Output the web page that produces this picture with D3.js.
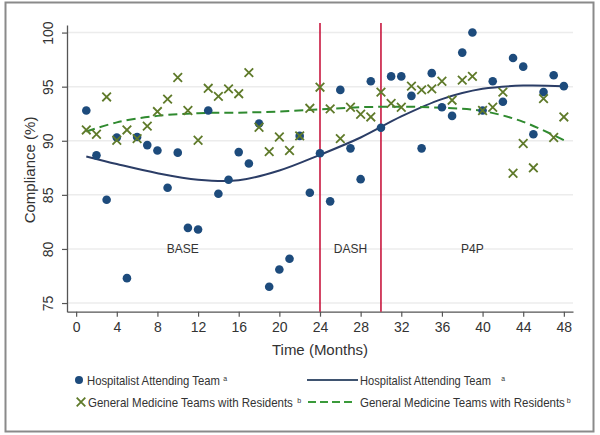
<!DOCTYPE html>
<html>
<head>
<meta charset="utf-8">
<script src="https://cdn.jsdelivr.net/npm/d3@7"></script>
<style>
  body { margin: 0; background: #fff; }
  text { font-family: "Liberation Sans", Arial, sans-serif; }
</style>
</head>
<body>
<div id="chart"></div>
<script>
var svgWidth = 600;
var svgHeight = 435;

// months 1..48
var months = d3.range(1, 49);

var hospitalist = [92.8, 88.65, 84.55, 90.3, 77.3, 90.35, 89.6, 89.1, 85.65, 88.9,
  81.95, 81.8, 92.8, 85.1, 86.4, 88.95, 87.9, 91.6, 76.5, 78.1,
  79.1, 90.45, 85.2, 88.85, 84.4, 94.7, 89.3, 86.45, 95.5, 91.2,
  95.95, 95.95, 94.15, 89.3, 96.25, 93.1, 92.3, 98.15, 100, 92.8,
  95.5, 93.6, 97.65, 96.85, 90.6, 94.5, 96.05, 95.05];

var residents = [91.0, 90.6, 94.05, 90.05, 91.0, 90.2, 91.35, 92.7, 93.85, 95.85,
  92.8, 90.05, 94.85, 94.1, 94.8, 94.35, 96.3, 91.25, 89.0, 90.35,
  89.1, 90.45, 93.0, 94.95, 92.95, 90.2, 93.1, 92.45, 92.2, 94.5,
  93.45, 93.1, 95.05, 94.7, 94.8, 95.5, 93.75, 95.6, 95.95, 92.8,
  93.1, 94.5, 87.0, 89.75, 87.5, 93.9, 90.3, 92.2];

// fitted trend lines
var fitMonths = [1, 4, 8, 12, 16, 20, 24, 28, 32, 36, 40, 44, 48];
var hospitalistFit = [88.55, 87.85, 87.0, 86.4, 86.35, 87.25, 88.7, 90.3, 92.25, 93.85, 94.8, 95.1, 95.05];
var residentsFit = [90.85, 91.7, 92.3, 92.55, 92.6, 92.7, 92.9, 93.1, 93.15, 93.05, 92.75, 91.75, 90.05];

var phaseBreaks = [24, 30];
var phaseLabels = ["BASE", "DASH", "P4P"];
var phaseLabelMonths = [10.5, 27, 39];

var xTicks = d3.range(0, 49, 4);
var yTicks = [75, 80, 85, 90, 95, 100];

var legendLabels = ["Hospitalist Attending Team", "General Medicine Teams with Residents"];
var legendSups = ["a", "b"];

var blue = "#1d4b7c";
var blueLine = "#2b3d66";
var green = "#5f7a2a";
var greenLine = "#3a9a3a";
var red = "#c8173f";

var svg = d3.select("#chart")
  .append("svg")
  .attr("width", svgWidth)
  .attr("height", svgHeight);

// outer frame
svg.append("rect")
  .attr("x", 5.5)
  .attr("y", 2.5)
  .attr("width", 588)
  .attr("height", 429)
  .attr("fill", "#fff")
  .attr("stroke", "#8a8a8a")
  .attr("stroke-width", 2);

var x = d3.scaleLinear().domain([-0.9, 48.9]).range([67, 573]);
var y = d3.scaleLinear().domain([74.2, 100.7]).range([311.7, 25]);

// gridlines
svg.append("g")
  .selectAll("line")
  .data(yTicks)
  .enter()
  .append("line")
  .attr("x1", x(-0.9))
  .attr("x2", x(48.9))
  .attr("y1", d => y(d))
  .attr("y2", d => y(d))
  .attr("stroke", "#ececec")
  .attr("stroke-width", 1.5);

// axes
var xAxis = svg.append("g")
  .attr("transform", `translate(0, ${y(74.2)})`)
  .call(d3.axisBottom(x).tickValues(xTicks).tickSize(5).tickPadding(5).tickSizeOuter(0));

var yAxis = svg.append("g")
  .attr("transform", `translate(${x(-0.9)}, 0)`)
  .call(d3.axisLeft(y).tickValues(yTicks).tickSize(5).tickSizeOuter(0));

[xAxis, yAxis].forEach(function(a) {
  a.select(".domain").attr("stroke", "#555").attr("stroke-width", 1.3);
  a.selectAll(".tick line").attr("stroke", "#555").attr("stroke-width", 1.2);
  a.selectAll(".tick text")
    .attr("fill", "#333")
    .style("font-size", "14px")
    .style("font-family", "'Liberation Sans', Arial, sans-serif");
});

// rotated y tick labels
yAxis.selectAll(".tick text")
  .attr("text-anchor", "middle")
  .attr("x", 0)
  .attr("dy", 0)
  .attr("transform", "translate(-14, 0) rotate(-90)");

// axis titles
svg.append("text")
  .attr("transform", `translate(30, ${y(87.3)}) rotate(-90)`)
  .attr("text-anchor", "middle")
  .attr("dy", "0.35em")
  .attr("fill", "#333")
  .style("font-size", "15px")
  .text("Compliance (%)");

svg.append("text")
  .attr("x", x(24))
  .attr("y", 355)
  .attr("text-anchor", "middle")
  .attr("fill", "#333")
  .style("font-size", "15px")
  .text("Time (Months)");

// phase boundaries
svg.append("g")
  .selectAll("line")
  .data(phaseBreaks)
  .enter()
  .append("line")
  .attr("x1", d => x(d))
  .attr("x2", d => x(d))
  .attr("y1", 23)
  .attr("y2", y(74.2))
  .attr("stroke", red)
  .attr("stroke-width", 1.6);

svg.append("g")
  .selectAll("text")
  .data(phaseLabels)
  .enter()
  .append("text")
  .attr("x", (d, i) => x(phaseLabelMonths[i]))
  .attr("y", y(80))
  .attr("dy", "0.35em")
  .attr("text-anchor", "middle")
  .attr("fill", "#333")
  .style("font-size", "12px")
  .text(d => d);

// fitted lines
var line = d3.line()
  .x((d, i) => x(fitMonths[i]))
  .y(d => y(d))
  .curve(d3.curveCatmullRom);

svg.append("path")
  .attr("d", line(hospitalistFit))
  .attr("fill", "none")
  .attr("stroke", blueLine)
  .attr("stroke-width", 2);

svg.append("path")
  .attr("d", line(residentsFit))
  .attr("fill", "none")
  .attr("stroke", "#2f8a2f")
  .attr("stroke-width", 2)
  .attr("stroke-dasharray", "9,5");

// hospitalist dots
svg.append("g")
  .selectAll("circle")
  .data(hospitalist)
  .enter()
  .append("circle")
  .attr("cx", (d, i) => x(months[i]))
  .attr("cy", d => y(d))
  .attr("r", 4.3)
  .attr("fill", blue);

// resident crosses
var cross = d3.symbol().type(d3.symbolX).size(50);
svg.append("g")
  .selectAll("path")
  .data(residents)
  .enter()
  .append("path")
  .attr("transform", (d, i) => `translate(${x(months[i])}, ${y(d)})`)
  .attr("d", cross)
  .attr("fill", "none")
  .attr("stroke", green)
  .attr("stroke-width", 1.8);

// legend
var legend = svg.append("g").attr("class", "legend");
var rowY = [380, 402];

legend.append("circle")
  .attr("cx", 79)
  .attr("cy", rowY[0])
  .attr("r", 4)
  .attr("fill", blue);

legend.append("path")
  .attr("transform", `translate(81, ${rowY[1]})`)
  .attr("d", cross)
  .attr("fill", "none")
  .attr("stroke", green)
  .attr("stroke-width", 1.8);

legend.append("line")
  .attr("x1", 307).attr("x2", 358)
  .attr("y1", rowY[0]).attr("y2", rowY[0])
  .attr("stroke", "#3f5470")
  .attr("stroke-width", 2);

legend.append("line")
  .attr("x1", 308).attr("x2", 355)
  .attr("y1", rowY[1]).attr("y2", rowY[1])
  .attr("stroke", greenLine)
  .attr("stroke-width", 2)
  .attr("stroke-dasharray", "8,4");

// narrow-looking legend text: squeeze horizontally to the width seen in the picture
function legendText(tx, ty, label, width, sup, gap) {
  var t = legend.append("text")
    .attr("dy", "0.35em")
    .attr("fill", "#333")
    .style("font-size", "13px");
  var main = t.append("tspan").text(label);
  t.append("tspan")
    .attr("dx", gap)
    .attr("dy", "-0.5em")
    .style("font-size", "8px")
    .text(sup);
  var k = width / main.node().getComputedTextLength();
  t.attr("transform", `translate(${tx}, ${ty}) scale(${k}, 1)`);
}

legendText(87, rowY[0], legendLabels[0], 133, legendSups[0], 4);
legendText(88, rowY[1], legendLabels[1], 205, legendSups[1], 5);
legendText(360, rowY[0], legendLabels[0], 131, legendSups[0], 12);
legendText(360, rowY[1], legendLabels[1], 205, legendSups[1], 2);
</script>
</body>
</html>
